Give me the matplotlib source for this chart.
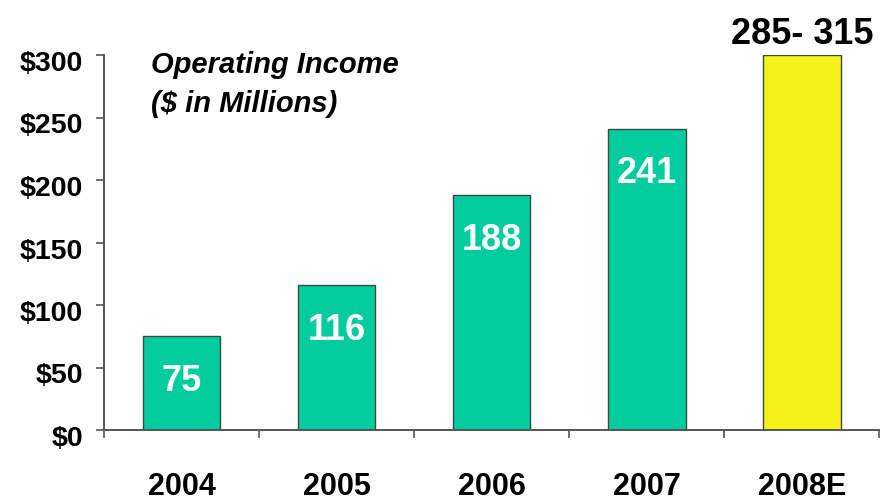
import matplotlib
matplotlib.use("Agg")
import matplotlib.pyplot as plt
import matplotlib.transforms as mtransforms
import numpy as np

years = ['2004', '2005', '2006', '2007', '2008E']
income = [75, 116, 188, 241, 300]          # 2008E drawn at the middle of the range
bar_labels = ['75', '116', '188', '241', '285- 315']
bar_colors = ['#00CC9E', '#00CC9E', '#00CC9E', '#00CC9E', '#F5F21A']
y_ticks = [0, 50, 100, 150, 200, 250, 300]
y_tick_labels = ['$0', '$50', '$100', '$150', '$200', '$250', '$300']

plt.rcParams['font.family'] = ['Liberation Sans', 'DejaVu Sans']

fig = plt.figure(figsize=(8.82, 5), dpi=100)
ax = fig.add_axes([0.118, 0.14, 0.879, 0.75])

x = np.arange(len(years))
ax.bar(x, income, width=0.5, color=bar_colors, edgecolor='#3a4a40', linewidth=1.0, zorder=2)

# value labels: white inside the bars, black above the estimate bar
for i, (v, lab) in enumerate(zip(income, bar_labels)):
    if i < len(years) - 1:
        ax.text(x[i], v - 36, lab, ha='center', va='center', color='white',
                fontsize=26, fontweight='bold')
    else:
        ax.annotate(lab, (x[i], v), xytext=(0, 2), textcoords='offset points',
                    ha='center', va='bottom', color='black', fontsize=26,
                    fontweight='bold')

ax.set_xlim(-0.5, len(years) - 0.5)
ax.set_ylim(0, 300)

# major x ticks sit between categories, labels on minor ticks at the centres
ax.set_xticks(np.arange(len(years) + 1) - 0.5)
ax.set_xticklabels([])
ax.set_xticks(x, minor=True)
ax.set_xticklabels(years, minor=True, fontsize=22, fontweight='bold')
ax.tick_params(axis='x', which='major', direction='out', length=6, width=1.2, color='#555555')
ax.tick_params(axis='x', which='minor', length=0, pad=30)

ax.set_yticks(y_ticks)
ax.set_yticklabels(y_tick_labels, fontsize=20.5, fontweight='bold')
ax.tick_params(axis='y', direction='out', length=6, width=1.2, color='#555555', pad=9)
offset = mtransforms.ScaledTranslation(0, -6 / 100, fig.dpi_scale_trans)
for t in ax.get_yticklabels():
    t.set_transform(t.get_transform() + offset)

for side in ['top', 'right']:
    ax.spines[side].set_visible(False)
for side in ['left', 'bottom']:
    ax.spines[side].set_color('#555555')
    ax.spines[side].set_linewidth(1.4)

ax.text(0.06, 1.01, 'Operating Income\n($ in Millions)', transform=ax.transAxes,
        ha='left', va='top', fontsize=21, fontweight='bold', fontstyle='italic',
        linespacing=1.48)

fig.savefig('out.png', dpi=100)
